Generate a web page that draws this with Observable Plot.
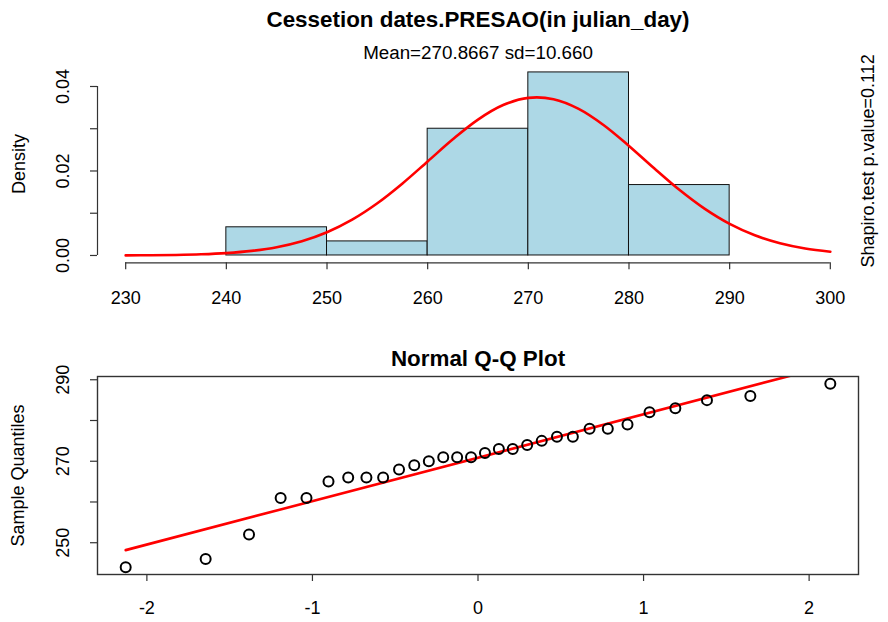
<!DOCTYPE html>
<html><head><meta charset="utf-8">
<script src="https://cdn.jsdelivr.net/npm/d3@7"></script>
<script src="https://cdn.jsdelivr.net/npm/@observablehq/plot@0.6"></script>
<style>
body{margin:0;background:#fff;}
#chart{position:relative;width:888px;height:622px;overflow:hidden;background:#fff;}
#chart svg{position:absolute;left:0;}
</style></head><body><div id="chart"></div>
<script>
// ---- Histogram panel data ----
const binStart = [240, 250, 260, 270, 280];
const binEnd = [250, 260, 270, 280, 290];
const binDensity = [0.00667, 0.00333, 0.03, 0.04333, 0.01667];
const curveX = [230, 232.5, 235, 237.5, 240, 242.5, 245, 247.5, 250, 252.5, 255, 257.5, 260, 262.5, 265, 267.5,
  270, 272.5, 275, 277.5, 280, 282.5, 285, 287.5, 290, 292.5, 295, 297.5, 300];
const curveY = [0.000024, 0.0000576, 0.00013, 0.000279, 0.000566, 0.001085, 0.00197, 0.003387, 0.00551, 0.008484, 0.01236, 0.01705, 0.02226, 0.0275, 0.03217, 0.03561,
  0.0373, 0.03699, 0.03471, 0.03084, 0.02593, 0.02063, 0.01554, 0.01108, 0.00747, 0.004775, 0.00289, 0.001652, 0.000894];
const histXTicks = [230, 240, 250, 260, 270, 280, 290, 300];
const histYTicks = [0, 0.01, 0.02, 0.03, 0.04];
const histYLabels = [0, 0.02, 0.04];
const histTitle = "Cessetion dates.PRESAO(in julian_day)";
const histSubtitle = "Mean=270.8667 sd=10.660";
const histYLabel = "Density";
const shapiroText = "Shapiro.test p.value=0.112";

// ---- Q-Q panel data ----
const theoretical = [-2.128, -1.645, -1.383, -1.192, -1.036, -0.903, -0.784, -0.674, -0.573, -0.477, -0.385, -0.297, -0.210, -0.126, -0.042,
  0.042, 0.126, 0.210, 0.297, 0.385, 0.477, 0.573, 0.674, 0.784, 0.903, 1.036, 1.192, 1.383, 1.645, 2.128];
const sample = [244, 246, 252, 261, 261, 265, 266, 266, 266, 268, 269, 270, 271, 271, 271,
  272, 273, 273, 274, 275, 276, 276, 278, 278, 279, 282, 283, 285, 286, 289];
const meanVal = 270.8667;
const sdVal = 10.660;
const qqXTicks = [-2, -1, 0, 1, 2];
const qqYTicks = [250, 260, 270, 280, 290];
const qqYLabels = [250, 270, 290];
const qqTitle = "Normal Q-Q Plot";
const qqYLabel = "Sample Quantiles";

const FONT = "'Liberation Sans', Arial, Helvetica, sans-serif";
const AX = "#333";
const chartEl = document.getElementById("chart");

// R-style 4% axis extension
function ext(lo, hi) { const d = (hi - lo) * 0.04; return [lo - d, hi + d]; }

// ---------- Top: histogram ----------
const bins = binStart.map((s, i) => ({x1: s, x2: binEnd[i], y: binDensity[i]}));
const curvePts = curveX.map((x, i) => ({x, y: curveY[i]}));
const hx = ext(histXTicks[0], histXTicks[histXTicks.length - 1]);
const hy = ext(0, d3.max(binDensity));

const histSvg = Plot.plot({
  width: 888, height: 320,
  marginLeft: 97, marginRight: 30, marginTop: 64.6, marginBottom: 57.7,
  style: {fontFamily: FONT, fontSize: "18px", background: "transparent", overflow: "visible"},
  x: {domain: hx}, y: {domain: hy},
  marks: [
    Plot.rectY(bins, {x1: "x1", x2: "x2", y: "y", fill: "#ADD8E6", stroke: "#111", strokeWidth: 1}),
    Plot.line(curvePts, {x: "x", y: "y", stroke: "#ff0000", strokeWidth: 2.6, curve: "catmull-rom"}),
    // x axis
    Plot.ruleY([hy[0]], {x1: histXTicks[0], x2: histXTicks[histXTicks.length - 1], stroke: AX, strokeWidth: 1.2}),
    Plot.axisX({ticks: histXTicks, tickSize: 7, tickFormat: () => "", label: null, color: AX, strokeWidth: 1.2}),
    Plot.text(histXTicks, {x: d => d, frameAnchor: "bottom", dy: 35, text: d => String(d), fontSize: 18, lineAnchor: "middle", fill: "#000"}),
    // y axis
    Plot.ruleX([hx[0]], {y1: histYTicks[0], y2: histYTicks[histYTicks.length - 1], stroke: AX, strokeWidth: 1.2}),
    Plot.axisY({ticks: histYTicks, tickSize: 7, tickFormat: () => "", label: null, color: AX, strokeWidth: 1.2}),
    Plot.text(histYLabels, {y: d => d, frameAnchor: "left", dx: -34, rotate: -90, text: d => d.toFixed(2), fontSize: 18, textAnchor: "middle", lineAnchor: "middle", fill: "#000"}),
    // titles
    Plot.text([histTitle], {frameAnchor: "top", dy: -45, text: d => d, fontSize: 22.4, fontWeight: "bold", textAnchor: "middle", lineAnchor: "middle", fill: "#000"}),
    Plot.text([histSubtitle], {frameAnchor: "top", dy: -12.6, text: d => d, fontSize: 18.8, textAnchor: "middle", lineAnchor: "middle", fill: "#000"}),
    Plot.text([histYLabel], {frameAnchor: "left", dx: -78, rotate: -90, text: d => d, fontSize: 18, textAnchor: "middle", lineAnchor: "middle", fill: "#000"}),
    Plot.text([shapiroText], {frameAnchor: "right", dx: 10, dy: -3, rotate: -90, text: d => d, fontSize: 18, textAnchor: "middle", lineAnchor: "middle", fill: "#000"})
  ]
});
histSvg.style.top = "0px";
chartEl.appendChild(histSvg);

// ---------- Bottom: Q-Q plot ----------
const qq = theoretical.map((t, i) => ({t, s: sample[i]}));
const qx = ext(d3.min(theoretical), d3.max(theoretical));
const qy = ext(d3.min(sample), d3.max(sample));
const tLo = d3.min(theoretical), tHi = d3.max(theoretical);
const qqLine = [{t: tLo, s: meanVal + sdVal * tLo}, {t: tHi, s: meanVal + sdVal * tHi}];

const qqSvg = Plot.plot({
  width: 888, height: 302,
  marginLeft: 97, marginRight: 30, marginTop: 56, marginBottom: 48,
  style: {fontFamily: FONT, fontSize: "18px", background: "transparent", overflow: "visible"},
  x: {domain: qx}, y: {domain: qy},
  marks: [
    Plot.line(qqLine, {x: "t", y: "s", stroke: "#ff0000", strokeWidth: 2.6, clip: true}),
    Plot.dot(qq, {x: "t", y: "s", r: 5, stroke: "#000", strokeWidth: 2, fill: "none"}),
    Plot.frame({stroke: AX, strokeWidth: 1.4}),
    Plot.axisX({ticks: qqXTicks, tickSize: 7, tickFormat: () => "", label: null, color: AX, strokeWidth: 1.2}),
    Plot.text(qqXTicks, {x: d => d, frameAnchor: "bottom", dy: 34, text: d => String(d), fontSize: 18, lineAnchor: "middle", fill: "#000"}),
    Plot.axisY({ticks: qqYTicks, tickSize: 7, tickFormat: () => "", label: null, color: AX, strokeWidth: 1.2}),
    Plot.text(qqYLabels, {y: d => d, frameAnchor: "left", dx: -34, rotate: -90, text: d => String(d), fontSize: 18, textAnchor: "middle", lineAnchor: "middle", fill: "#000"}),
    Plot.text([qqTitle], {frameAnchor: "top", dy: -18, text: d => d, fontSize: 22.4, fontWeight: "bold", textAnchor: "middle", lineAnchor: "middle", fill: "#000"}),
    Plot.text([qqYLabel], {frameAnchor: "left", dx: -79, rotate: -90, text: d => d, fontSize: 18, textAnchor: "middle", lineAnchor: "middle", fill: "#000"})
  ]
});
qqSvg.style.top = "320px";
chartEl.appendChild(qqSvg);
</script></body></html>
